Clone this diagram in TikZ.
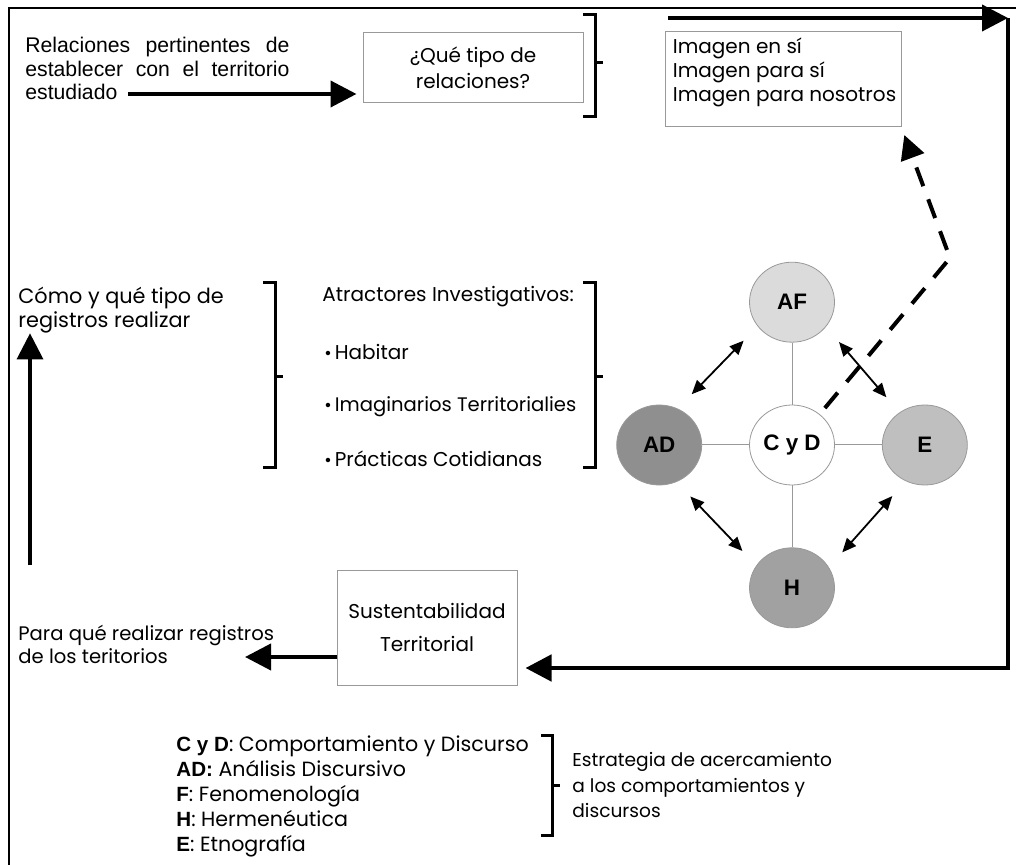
\documentclass[tikz,border=0pt]{standalone}
\usepackage{fontspec}
\setmainfont{Poppins}
\newfontfamily\arialfont{Liberation Sans}
\usetikzlibrary{positioning,shapes.geometric,arrows.meta}

\definecolor{afgray}{gray}{0.86}
\definecolor{adgray}{gray}{0.56}
\definecolor{egray}{gray}{0.75}
\definecolor{hgray}{gray}{0.63}
\definecolor{rimgray}{gray}{0.6}

\newcommand{\dotitem}{{\fontsize{9}{9}\selectfont\textbullet}\hspace{1.5pt}}

\begin{document}
\begin{tikzpicture}[x=0.5pt,y=-0.5pt,node distance=31pt,
  txt/.style={inner sep=0pt,font=\fontsize{10}{11.75}\selectfont},
  box/.style={draw=rimgray,line width=0.5pt,inner sep=0pt,align=center},
  circ/.style={ellipse,draw=rimgray,line width=0.4pt,minimum width=42.5pt,
    minimum height=40pt,inner sep=0pt,font=\arialfont\bfseries\fontsize{11.2}{13}\selectfont},
  link/.style={draw=rimgray,line width=0.5pt},
  dbl/.style={{Triangle[length=7pt,width=6pt]}-{Triangle[length=7pt,width=6pt]},
    line width=0.9pt,shorten <=10pt,shorten >=10pt},
  big/.style={-{Triangle[length=13pt,width=13pt]},line width=2pt},
  brace/.style={line width=1.5pt}]

\useasboundingbox (0,0) rectangle (1016,865);
\draw[line width=0.8pt] (9,865) -- (9,8) -- (1016,8);

% top row
\node[txt,anchor=north west,align=left,font=\arialfont\fontsize{10.6}{11.75}\selectfont] (Rel) at (25,37)
  {\makebox[132pt][s]{Relaciones pertinentes de}\\
   \makebox[132pt][s]{establecer con el territorio}\\
   estudiado};
\node[box,minimum width=110pt,minimum height=35pt,font=\fontsize{10}{13}\selectfont] (Que) at (473,68)
  {¿Qué tipo de\\relaciones?};
\node[box,minimum width=118pt,minimum height=47.5pt] (Imagen) at (783,79.5) {};
\node[txt,anchor=north west,align=left,font=\fontsize{10}{12}\selectfont] (ImgText)
  at ([shift={(4pt,-3pt)}]Imagen.north west)
  {Imagen en sí\\Imagen para sí\\Imagen para nosotros};

\coordinate (relfoot) at (128,94);
\draw[big,shorten >=3pt] (relfoot) -- (relfoot -| Que.west);
\draw[brace] (583,15) -- (595,15) -- (595,117) -- (583,117) (595,63) -- (603,63);

% middle row
\node[txt,anchor=north west,align=left,font=\fontsize{10.4}{11.75}\selectfont] (Como) at (18,287)
  {Cómo y qué tipo de\\registros realizar};
\node[txt,anchor=west] (Atr) at (322,297) {Atractores Investigativos:};
\node[txt,anchor=west] (Hab) at (324,352) {\dotitem Habitar};
\node[txt,anchor=west,font=\fontsize{9.8}{11}\selectfont] (Ima) at (324,407) {\dotitem Imaginarios Territorialies};
\node[txt,anchor=west] (Pra) at (324,459) {\dotitem Prácticas Cotidianas};
\draw[brace] (263,283) -- (275,283) -- (275,468) -- (263,468) (275,377) -- (283,377);
\draw[brace] (583,283) -- (595,283) -- (595,468) -- (583,468) (595,377) -- (603,377);

% circles
\node[circ,fill=white] (CyD) at (792,445) {C y D};
\node[circ,fill=afgray] (AF) [above=of CyD] {AF};
\node[circ,fill=hgray] (H) [below=of CyD] {H};
\node[circ,fill=adgray] (AD) [left=23.5pt of CyD] {AD};
\node[circ,fill=egray] (E) [right=23.5pt of CyD] {E};
\draw[link] (CyD) -- (AF) (CyD) -- (H) (CyD) -- (AD) (CyD) -- (E);
\draw[dbl] (AD.63) -- (AF.215);
\draw[dbl] (AF.324) -- (E.128);
\draw[dbl] (AD.295) -- (H.148);
\draw[dbl] (E.242) -- (H.29);

\coordinate (kink) at (950,258);
\draw[-{Triangle[length=12pt,width=12pt]},line width=2pt,dash pattern=on 10pt off 7pt,
  shorten <=4pt,shorten >=4pt] (CyD.48) -- (kink) -- (Imagen.south east);

% bottom row
\node[box,minimum width=90pt,minimum height=57.5pt,font=\fontsize{10}{16.5}\selectfont] (Sust) at (427,627.5)
  {Sustentabilidad\\Territorial};
\node[txt,anchor=north west,align=left,font=\fontsize{9.8}{11.5}\selectfont] (Para) at (18,625)
  {Para qué realizar registros\\de los teritorios};
\coordinate (paratip) at (245,657);
\draw[big] (Sust.west |- paratip) -- (paratip);
\coordinate (upfoot) at (30,565);
\draw[big,line width=1.6pt] (upfoot) -- (upfoot |- Como.south);

\coordinate (topstart) at (668,18);
\coordinate (corner) at (1008,18);
\coordinate (turn) at (1008,668);
\draw[big] (topstart) -- (corner);
\draw[big,line width=2.4pt,shorten >=4pt] (corner) -- (turn) -- (turn -| Sust.east);

% legend
\node[txt,anchor=north west,align=left,font=\fontsize{10.3}{12.5}\selectfont] (Legend) at (176,735)
  {{\arialfont\bfseries C y D}: Comportamiento y Discurso\\
   {\arialfont\bfseries AD:} Análisis Discursivo\\
   {\arialfont\bfseries F}: Fenomenología\\
   {\arialfont\bfseries H}: Hermenéutica\\
   {\arialfont\bfseries E}: Etnografía};
\draw[brace] (541,735) -- (552,735) -- (552,835) -- (541,835) (552,785) -- (560,785);
\node[txt,anchor=north west,align=left,font=\fontsize{9.3}{12.75}\selectfont] (Estr) at (572,752)
  {Estrategia de acercamiento\\a los comportamientos y\\discursos};
\end{tikzpicture}
\end{document}
